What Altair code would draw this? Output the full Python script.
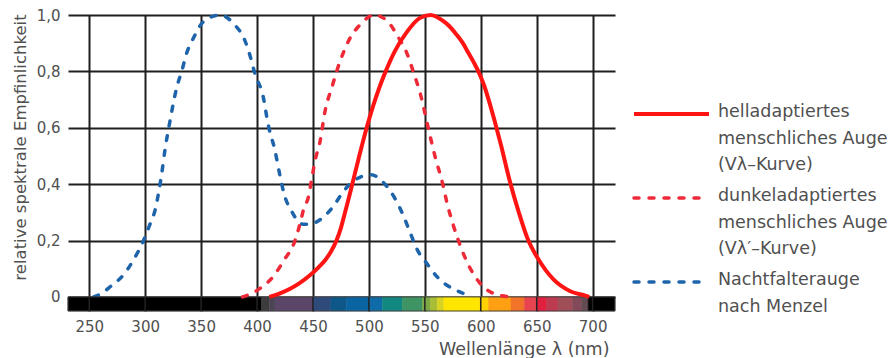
import altair as alt
import pandas as pd

# --- curve data (wavelength nm, relative sensitivity) ---
hell_wl = [411, 420, 430, 438, 447, 455, 461, 466, 471, 475, 478, 481, 484.5, 490.5, 498, 504, 510, 515,
           523, 534, 545, 555, 566, 572, 578, 584, 589, 594, 599, 603, 607, 612, 618, 626, 634, 642,
           650, 658, 665, 680, 694, 697]
hell_v = [0.0, 0.012, 0.03, 0.049, 0.076, 0.105, 0.131, 0.16, 0.2, 0.245, 0.29, 0.335, 0.39, 0.486, 0.6,
          0.68, 0.75, 0.8, 0.87, 0.94, 0.988, 1.0, 0.98, 0.96, 0.932, 0.9, 0.865, 0.83, 0.79, 0.75,
          0.7, 0.63, 0.54, 0.41, 0.3, 0.205, 0.143, 0.095, 0.062, 0.02, 0.004, 0.0]

dunkel_wl = [387, 395, 403, 415, 424, 434, 438.5, 441.5, 446, 449, 452, 456, 461, 467, 472, 477, 483,
             492, 505, 517, 526, 534, 540, 546, 553, 559, 566, 570, 575, 580, 587, 599, 611, 626]
dunkel_v = [0.0, 0.012, 0.031, 0.075, 0.13, 0.2, 0.261, 0.309, 0.356, 0.421, 0.486, 0.545, 0.663,
            0.745, 0.81, 0.865, 0.917, 0.965, 1.0, 0.976, 0.923, 0.864, 0.795, 0.72, 0.6, 0.5, 0.4,
            0.33, 0.26, 0.2, 0.13, 0.05, 0.013, 0.0]

falter_wl = [254, 262, 269, 280.5, 289.5, 298.5, 304.5, 309, 312, 314.5, 318, 322, 328, 333, 337, 343, 352,
             367, 380, 389, 394, 398, 405.5, 410, 416, 420.5, 424, 431, 441, 447, 456, 468, 477, 487.5,
             502, 515, 524, 530.5, 536.5, 542.5, 551.5, 562, 574, 584, 590]
falter_v = [0.0, 0.015, 0.037, 0.078, 0.131, 0.2, 0.26, 0.31, 0.37, 0.43, 0.53, 0.62, 0.74, 0.805, 0.864,
            0.917, 0.976, 1.0, 0.965, 0.911, 0.852, 0.793, 0.71, 0.61, 0.52, 0.43, 0.368, 0.303, 0.258,
            0.258, 0.273, 0.32, 0.373, 0.415, 0.433, 0.397, 0.344, 0.291, 0.232, 0.173, 0.12, 0.067,
            0.031, 0.013, 0.0]

# --- spectrum strip ---
spec_bounds = [231, 404, 411, 416, 450, 466, 480, 500, 512, 530, 548, 555, 561, 567, 599, 607, 627,
               639, 650, 659, 669, 682, 690, 696, 720]
spec_colors = ["#000000", "#3d3d3d", "#4b4452", "#5b4568", "#2d4a7b", "#0d5889", "#0b64a2", "#0f6ca8",
               "#138880", "#3f9463", "#7da843", "#a8bc36", "#d8d222", "#ffe600", "#ffd200", "#ffa012",
               "#f27428", "#e8444f", "#e0203e", "#bd3a50", "#a04e58", "#824a58", "#634c52", "#000000"]

x_ticks = [250, 300, 350, 400, 450, 500, 550, 600, 650, 700]
y_ticks = [0, 0.2, 0.4, 0.6, 0.8, 1.0]

legend_entries = [
    ["helladaptiertes", "menschliches Auge", "(Vλ–Kurve)"],
    ["dunkeladaptiertes", "menschliches Auge", "(Vλ′–Kurve)"],
    ["Nachtfalterauge", "nach Menzel"],
]

FONT = "DejaVu Sans"
TXT = "#505050"
RED = "#ff1414"
RED_D = "#ee2a38"
BLUE = "#1e64aa"

xs = alt.Scale(domain=[231, 720], nice=False, zero=False)
ys = alt.Scale(domain=[-0.05, 1.0], nice=False, zero=False)

spec_df = pd.DataFrame({"x0": spec_bounds[:-1], "x1": spec_bounds[1:], "c": spec_colors})
tick_df = pd.DataFrame({"x": x_ticks})
hell_df = pd.DataFrame({"wl": hell_wl, "v": hell_v})
dunkel_df = pd.DataFrame({"wl": dunkel_wl, "v": dunkel_v})
falter_df = pd.DataFrame({"wl": falter_wl, "v": falter_v})
one = pd.DataFrame({"k": [0]})

x_axis = alt.Axis(values=x_ticks, title="Wellenlänge λ (nm)", titleAnchor="end", titleAlign="right",
                  titleX=541, titleY=43, titleBaseline="alphabetic", titleFontSize=17.5,
                  labelPadding=8, labelFontSize=15)
y_axis = alt.Axis(values=y_ticks, title="relative spektrale Empfinlichkeit",
                  labelExpr="datum.value == 0 ? '0' : replace(format(datum.value, '.1f'), '.', ',')",
                  titleX=-48, titleY=132, titleAngle=-90, titleBaseline="middle", titleAlign="center",
                  titleFontSize=16.5, labelPadding=8, labelBaseline="middle", labelFontSize=15)


def X(field):
    return alt.X(field, scale=xs, axis=x_axis)


def Y(field):
    return alt.Y(field, scale=ys, axis=y_axis)


falter = alt.Chart(falter_df).mark_line(
    interpolate="monotone", strokeWidth=3.5, strokeDash=[5, 10], strokeCap="round", color=BLUE
).encode(x=X("wl:Q"), y=Y("v:Q"))

dunkel = alt.Chart(dunkel_df).mark_line(
    interpolate="monotone", strokeWidth=3.5, strokeDash=[5, 10], strokeCap="round", color=RED_D
).encode(x=X("wl:Q"), y=Y("v:Q"))

hell = alt.Chart(hell_df).mark_line(
    interpolate="monotone", strokeWidth=4, color=RED
).encode(x=X("wl:Q"), y=Y("v:Q"))

spec = alt.Chart(spec_df).mark_rect(strokeWidth=0.5).encode(
    x=X("x0:Q"), x2="x1:Q",
    y=alt.Y(datum=0, scale=ys, axis=y_axis), y2=alt.datum(-0.05),
    color=alt.Color("c:N", scale=None), stroke=alt.Stroke("c:N", scale=None),
)
spec_border = alt.Chart(one).mark_rect(fill=None, stroke="#444", strokeWidth=1).encode(
    x=alt.X(datum=231, scale=xs, axis=x_axis), x2=alt.datum(720),
    y=alt.Y(datum=0, scale=ys, axis=y_axis), y2=alt.datum(-0.05)
)
spec_lines = alt.Chart(tick_df).mark_rule(color="#222", strokeWidth=1.5).encode(
    x=X("x:Q"), y=alt.Y(datum=0, scale=ys, axis=y_axis), y2=alt.datum(-0.05)
)

# --- custom legend to the right of the plot ---
legend_layers = []
line_styles = [
    dict(color=RED, strokeWidth=4),
    dict(color=RED_D, strokeWidth=3.5, strokeDash=[5, 10], strokeCap="round"),
    dict(color=BLUE, strokeWidth=3.5, strokeDash=[5, 10], strokeCap="round"),
]
sym_y = [99, 183, 267]
for i, lines in enumerate(legend_entries):
    legend_layers.append(
        alt.Chart(one).mark_rule(**line_styles[i]).encode(
            x=alt.value(566), x2=alt.value(641), y=alt.value(sym_y[i])
        )
    )
    for j, t in enumerate(lines):
        legend_layers.append(
            alt.Chart(one).mark_text(
                text=t, align="left", baseline="middle", font=FONT, fontSize=17.5, color=TXT
            ).encode(x=alt.value(650), y=alt.value(sym_y[i] - 2 + 26.5 * j))
        )

chart = alt.layer(
    falter, spec, spec_border, spec_lines, dunkel, hell, *legend_layers
).properties(
    width=547, height=296,
    autosize=alt.AutoSizeParams(type="none"),
    padding={"left": 60, "top": 7, "right": 272, "bottom": 47},
).configure_view(stroke=None).configure_axis(
    domain=False, ticks=False, tickSize=0, grid=True, gridColor="#1e1e1e", gridWidth=2, gridOpacity=1,
    labelFont=FONT, labelColor=TXT,
    titleFont=FONT, titleColor=TXT, titleFontWeight="normal",
)

chart.save("out.html", embed_options={"renderer": "svg", "actions": False})
